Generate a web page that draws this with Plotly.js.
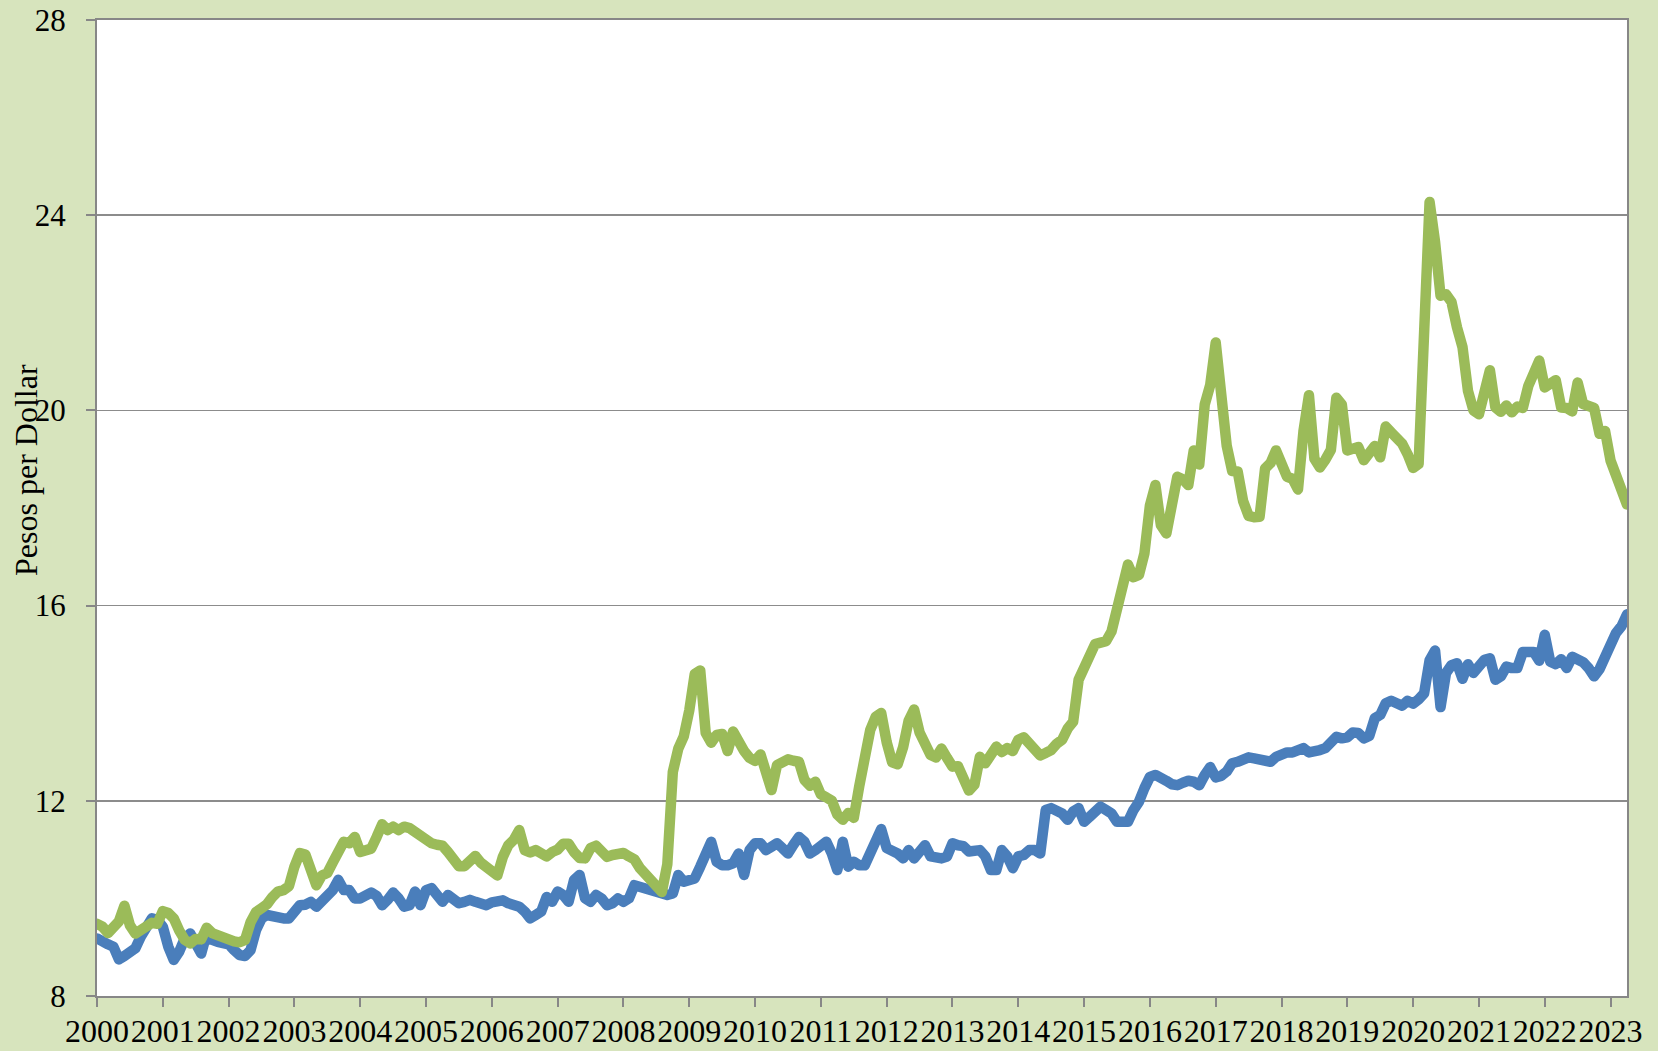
<!DOCTYPE html>
<html><head><meta charset="utf-8">
<script src="https://cdn.plot.ly/plotly-3.0.1.min.js"></script>
<style>
html,body{margin:0;padding:0;background:#d7e4bd;}
#chart{width:1658px;height:1051px;}
.scatterlayer .js-line{stroke-linejoin:round;stroke-linecap:round;}
</style></head><body><div id="chart"></div>
<script>
// Monthly data, January 2000 – April 2023
const startYear = 2000;
const yearTicks = [2000,2001,2002,2003,2004,2005,2006,2007,2008,2009,2010,2011,2012,2013,2014,2015,2016,2017,2018,2019,2020,2021,2022,2023];
const yTicks = [8,12,16,20,24,28];

const greenSeries = [
  9.48, 9.42, 9.29, 9.41, 9.53, 9.85, 9.45, 9.28, 9.36, 9.48, 9.50, 9.48,
  9.74, 9.70, 9.59, 9.34, 9.15, 9.08, 9.17, 9.16, 9.40, 9.29, 9.24, 9.18,
  9.16, 9.12, 9.10, 9.15, 9.51, 9.72, 9.80, 9.88, 10.03, 10.14, 10.17, 10.25,
  10.65, 10.93, 10.90, 10.57, 10.27, 10.47, 10.52, 10.74, 10.93, 11.16, 11.13, 11.26,
  10.95, 10.98, 11.02, 11.26, 11.52, 11.40, 11.47, 11.40, 11.47, 11.44, 11.36, 11.24,
  11.20, 11.13, 11.10, 11.08, 10.95, 10.80, 10.66, 10.66, 10.80, 10.87, 10.73, 10.63,
  10.55, 10.47, 10.85, 11.09, 11.20, 11.40, 10.99, 10.94, 10.99, 10.90, 10.86, 10.95,
  11.00, 11.12, 11.12, 10.95, 10.83, 10.82, 11.03, 11.08, 10.99, 10.85, 10.89, 10.89,
  10.93, 10.86, 10.80, 10.62, 10.49, 10.39, 10.26, 10.13, 10.70, 12.59, 13.07, 13.32,
  13.85, 14.60, 14.67, 13.39, 13.19, 13.35, 13.37, 13.02, 13.42, 13.20, 13.02, 12.88,
  12.82, 12.95, 12.63, 12.22, 12.73, 12.78, 12.85, 12.82, 12.80, 12.43, 12.31, 12.39,
  12.13, 12.07, 12.00, 11.72, 11.61, 11.75, 11.65, 12.30, 13.02, 13.45, 13.72, 13.80,
  13.20, 12.79, 12.75, 13.10, 13.64, 13.87, 13.40, 13.17, 12.94, 12.89, 13.07, 12.88,
  12.70, 12.71, 12.46, 12.21, 12.33, 12.90, 12.77, 12.92, 13.11, 13.00, 13.08, 13.02,
  13.25, 13.30, 13.20, 13.06, 12.93, 12.98, 13.04, 13.17, 13.25, 13.48, 13.62, 14.48,
  14.69, 14.92, 15.21, 15.24, 15.27, 15.47, 15.92, 16.51, 16.84, 16.58, 16.63, 17.07,
  18.05, 18.47, 17.65, 17.48, 18.15, 18.64, 18.59, 18.47, 19.18, 18.89, 20.12, 20.52,
  21.39, 20.30, 19.28, 18.76, 18.75, 18.14, 17.84, 17.81, 17.82, 18.81, 18.92, 19.18,
  18.91, 18.64, 18.60, 18.38, 19.57, 20.31, 19.01, 18.83, 18.99, 19.19, 20.26, 20.12,
  19.18, 19.21, 19.25, 18.98, 19.11, 19.27, 19.04, 19.67, 19.55, 19.42, 19.32, 19.10,
  18.82, 18.90, 22.40, 24.27, 23.45, 22.35, 22.38, 22.22, 21.70, 21.30, 20.40, 20.00,
  19.92, 20.30, 20.82, 20.06, 19.97, 20.10, 19.96, 20.08, 20.05, 20.50, 20.80, 21.02,
  20.47, 20.52, 20.62, 20.06, 20.05, 19.98, 20.57, 20.13, 20.10, 20.05, 19.52, 19.58,
  18.97, 18.64, 18.44, 18.07
];

const blueSeries = [
  9.18, 9.09, 9.06, 9.01, 8.75, 8.82, 8.91, 8.98, 9.22, 9.45, 9.59, 9.56,
  9.42, 9.01, 8.74, 8.91, 9.18, 9.28, 9.01, 8.87, 9.28, 9.15, 9.11, 9.08,
  9.06, 8.94, 8.84, 8.82, 8.94, 9.35, 9.59, 9.66, 9.63, 9.57, 9.59, 9.59,
  9.76, 9.86, 9.87, 9.93, 9.83, 9.93, 10.00, 10.17, 10.38, 10.17, 10.17, 10.00,
  10.00, 10.07, 10.12, 10.05, 9.86, 9.97, 10.12, 10.00, 9.83, 9.86, 10.14, 9.86,
  10.17, 10.21, 10.03, 9.93, 10.07, 9.97, 9.90, 9.93, 9.97, 9.93, 9.92, 9.86,
  9.92, 9.93, 9.96, 9.90, 9.86, 9.83, 9.73, 9.59, 9.66, 9.73, 10.03, 9.93,
  10.14, 10.07, 9.93, 10.38, 10.48, 10.00, 9.93, 10.07, 10.00, 9.86, 9.90, 10.00,
  9.93, 10.00, 10.27, 10.24, 10.19, 10.17, 10.14, 10.10, 10.07, 10.10, 10.48, 10.34,
  10.38, 10.41, 10.65, 10.92, 11.16, 10.75, 10.68, 10.68, 10.72, 10.92, 10.48, 10.99,
  11.13, 11.13, 10.99, 11.06, 11.13, 11.03, 10.92, 11.10, 11.26, 11.16, 10.92, 10.99,
  11.10, 11.16, 10.92, 10.58, 11.16, 10.65, 10.75, 10.68, 10.68, 10.95, 11.20, 11.42,
  11.03, 10.99, 10.92, 10.82, 10.99, 10.82, 10.99, 11.09, 10.86, 10.82, 10.82, 10.86,
  11.13, 11.09, 11.07, 10.96, 10.99, 10.99, 10.86, 10.58, 10.58, 10.99, 10.86, 10.62,
  10.86, 10.89, 10.99, 10.99, 10.92, 11.81, 11.85, 11.81, 11.74, 11.61, 11.78, 11.85,
  11.57, 11.67, 11.81, 11.88, 11.81, 11.74, 11.57, 11.57, 11.57, 11.81, 11.98, 12.26,
  12.49, 12.53, 12.44, 12.41, 12.34, 12.32, 12.37, 12.41, 12.39, 12.32, 12.53, 12.69,
  12.48, 12.51, 12.60, 12.77, 12.80, 12.87, 12.89, 12.87, 12.85, 12.84, 12.80, 12.90,
  12.97, 12.99, 12.99, 13.03, 13.08, 12.99, 12.99, 13.04, 13.08, 13.18, 13.31, 13.28,
  13.30, 13.40, 13.39, 13.28, 13.33, 13.69, 13.76, 14.00, 14.05, 14.00, 13.95, 14.05,
  13.99, 14.08, 14.20, 14.88, 15.08, 13.92, 14.62, 14.78, 14.82, 14.50, 14.80, 14.62,
  14.80, 14.89, 14.92, 14.48, 14.55, 14.75, 14.72, 14.72, 15.05, 15.07, 15.05, 14.87,
  15.40, 14.85, 14.80, 14.90, 14.72, 14.95, 14.90, 14.84, 14.72, 14.55, 14.70, 14.95,
  15.22, 15.44, 15.58, 15.82
];

const months = greenSeries.map((_, i) => startYear + i / 12);

const axisFont = {family: 'Liberation Serif, Times New Roman, serif', size: 31, color: '#000000'};
const xTickFont = {family: 'Liberation Serif, Times New Roman, serif', size: 32, color: '#000000'};
const axisGray = '#878787';

const traces = [
  {x: months, y: blueSeries, type: 'scatter', mode: 'lines', name: 'Blue',
   line: {color: '#4a7ebb', width: 10.5}, hoverinfo: 'x+y'},
  {x: months, y: greenSeries, type: 'scatter', mode: 'lines', name: 'Green',
   line: {color: '#9bbb59', width: 10.5}, hoverinfo: 'x+y'}
];

const layout = {
  width: 1658, height: 1051, autosize: false,
  paper_bgcolor: '#d7e4bd', plot_bgcolor: '#ffffff',
  margin: {l: 97, r: 31, t: 20, b: 55, pad: 0},
  showlegend: false,
  xaxis: {
    range: [2000, 2023.25], tickmode: 'array', tickvals: yearTicks,
    ticktext: yearTicks.map(String), tickangle: 0,
    ticks: 'outside', ticklen: 9, tickwidth: 2, tickcolor: axisGray,
    showline: true, linecolor: axisGray, linewidth: 2, mirror: true,
    showgrid: false, zeroline: false, tickfont: xTickFont, ticklabelstandoff: -3
  },
  yaxis: {
    range: [8, 28], tickmode: 'array', tickvals: yTicks, ticktext: yTicks.map(String),
    ticks: 'outside', ticklen: 9, tickwidth: 2, tickcolor: axisGray,
    showline: true, linecolor: axisGray, linewidth: 2, mirror: true,
    showgrid: true, gridcolor: '#8c8c8c', gridwidth: 1.5, zeroline: false,
    tickfont: axisFont, ticklabelstandoff: 14
  },
  annotations: [{
    text: 'Pesos per Dollar', textangle: -90, showarrow: false,
    xref: 'paper', yref: 'paper', x: -0.0464, y: 0.539,
    xanchor: 'center', yanchor: 'middle',
    font: {family: 'Liberation Serif, Times New Roman, serif', size: 32, color: '#000000'}
  }]
};

Plotly.newPlot('chart', traces, layout, {displayModeBar: false, staticPlot: true});
</script>
</body></html>
